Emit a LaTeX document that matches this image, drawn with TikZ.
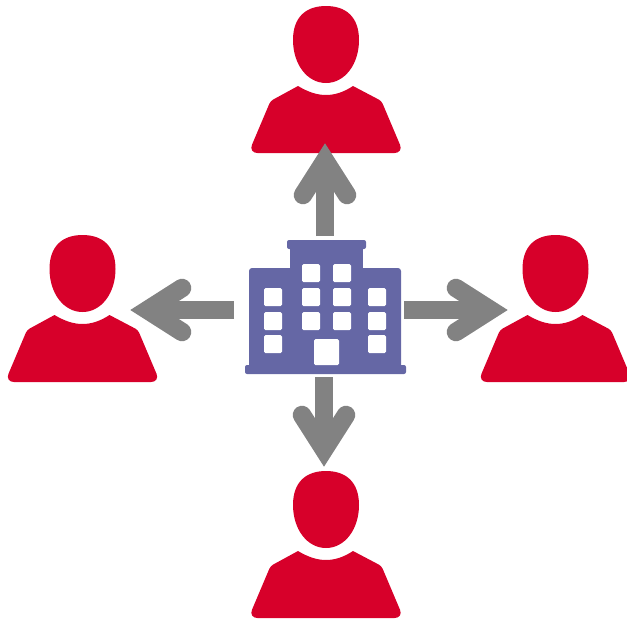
\documentclass[tikz,border=0pt]{standalone}
\usetikzlibrary{calc}
\definecolor{pred}{HTML}{D7002A}
\definecolor{bld}{HTML}{6567A5}
\definecolor{agray}{HTML}{828282}
\tikzset{
  shaft/.style={draw=agray,line width=18pt,line cap=butt},
  barb/.style={draw=agray,line width=18.5pt,line cap=round,line join=miter,miter limit=10},
  win/.style={fill=white,rounded corners=1.5pt},
  person/.pic={
    % local coordinates = pixel coordinates of the top figure
    \fill[pred] (326,6) .. controls (346,6) and (359,17) .. (359,40)
      .. controls (359,64) and (345,83) .. (326,83)
      .. controls (307,83) and (293,64) .. (293,40)
      .. controls (293,17) and (306,6) .. (326,6) -- cycle;
    \fill[pred] (298,86) .. controls (308,92) and (317,95) .. (326,95)
      .. controls (335,95) and (344,92) .. (353,86)
      [rounded corners=3pt] -- (381.5,101)
      [rounded corners=9pt] -- (403.5,153) -- (248.5,153)
      [rounded corners=3pt] -- (270.5,101)
      [sharp corners] -- cycle;
  }
}
\newcommand{\arrowhead}[2]{%
  \draw[barb,shift={(#1)},rotate=#2] (-22,52) -- (0,17.5) -- (22,52);}
\begin{document}
\begin{tikzpicture}[x=1pt,y=-1pt]
\useasboundingbox (0,0) rectangle (627,622);
\pic at (0,0) {person};
\pic at (-243.5,229) {person};
\pic at (229.5,229) {person};
\pic at (0,465) {person};
% building
\fill[bld,rounded corners=2pt] (287,240) rectangle (366,249);
\fill[bld] (290,247) rectangle (363,270);
\fill[bld,rounded corners=3pt] (249,268) rectangle (401,370);
\fill[bld,rounded corners=2pt] (245,365) rectangle (406,374);
\foreach \x/\y in {302/264,333/264,
  264/288,302/288,333/288,368/288,
  264/312,302/312,333/312,368/312,
  264/335,368/335}
  \fill[win] (\x,\y) rectangle ++(18,18);
\fill[win] (314,339) rectangle (339,365);
% arrows
\coordinate (ts) at (325,236); \coordinate (tt) at (325,143);
\coordinate (bs) at (324,377); \coordinate (bt) at (324,467);
\coordinate (ls) at (234,310); \coordinate (lt) at (130,310);
\coordinate (rs) at (404,310); \coordinate (rt) at (508,310);
\draw[shaft] (ts) -- ($(tt)+(0,20)$);
\draw[shaft] (bs) -- ($(bt)+(0,-20)$);
\draw[shaft] (ls) -- ($(lt)+(20,0)$);
\draw[shaft] (rs) -- ($(rt)+(-20,0)$);
\arrowhead{tt}{0}
\arrowhead{bt}{180}
\arrowhead{lt}{90}
\arrowhead{rt}{-90}
\end{tikzpicture}
\end{document}
